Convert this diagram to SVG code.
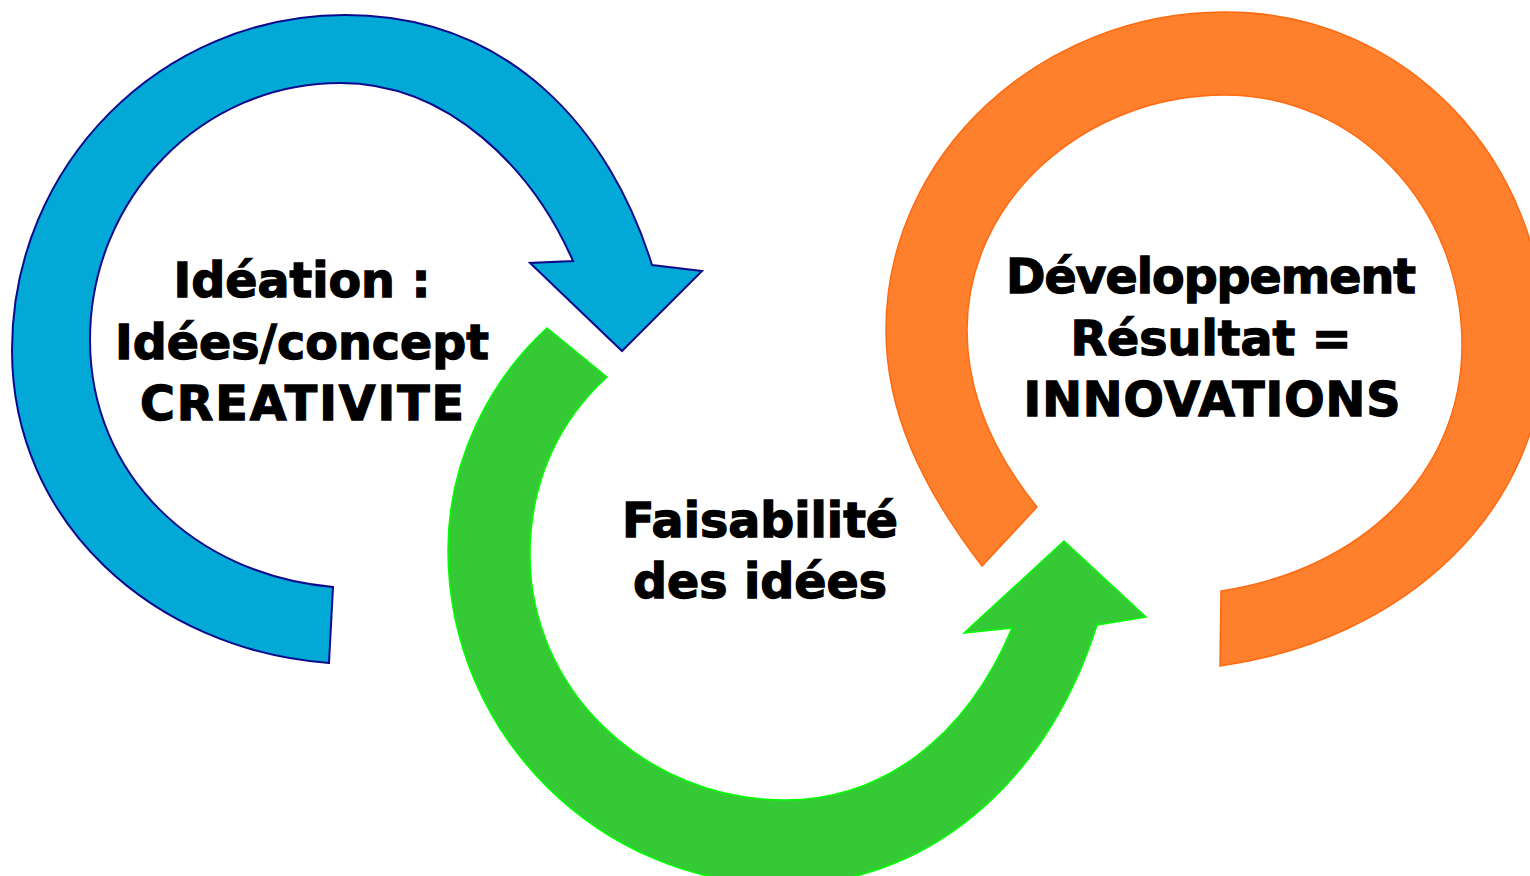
<svg xmlns="http://www.w3.org/2000/svg" width="1530" height="876" viewBox="0 0 1530 876">
<style>
.lbl{font-family:"DejaVu Sans","Liberation Sans",sans-serif;font-weight:bold;font-size:47.5px;fill:#000;stroke:#000;stroke-width:1.3;text-anchor:middle}
.blue{fill:#02A9D6;stroke:#0A0A8C;stroke-width:2;stroke-linejoin:miter}
.green{fill:#36C936;stroke:#00FF00;stroke-width:1.5}
.orange{fill:#FE7F2C;stroke:#FF6A10;stroke-width:1.5}
</style>
<rect width="1530" height="876" fill="#fff"/>
<g id="connectors">
<path id="arrow-blue" class="blue" d="M329,663 C154,650 12,523 12,350 C12,165 161,15 345,15 C510,15 610,130 652,265 L702,271 L622,351 L530,263 L573,261 C533,170 450,83 340,83 C202,83 90,198 90,340 C90,475 195,575 333,587 Z"/>
<path id="arrow-green" class="green" d="M547,328 C490,380 448,460 448,550 C448,735 600,885 785,885 C920,885 1045,790 1097,625 L1146,617 L1064,541 L964,633 L1012,628 C965,740 880,800 785,800 C645,800 530,690 530,555 C530,480 560,420 607,377 Z"/>
<path id="arrow-orange" class="orange" d="M982,566 C920,485 886,410 886,330 C886,155 1040,12 1225,12 C1410,12 1545,165 1545,340 C1545,510 1405,640 1220,666 L1221,591 C1360,570 1462,475 1462,345 C1462,205 1355,95 1225,95 C1085,95 967,200 967,330 C967,395 995,455 1037,507 Z"/>
</g>
<g id="node-ideation">
<text class="lbl" x="302" y="297">Idéation :</text>
<text class="lbl" x="302" y="359" textLength="374" lengthAdjust="spacing">Idées/concept</text>
<text class="lbl" x="302" y="420" textLength="324" lengthAdjust="spacing">CREATIVITE</text>
</g>
<g id="node-faisabilite">
<text class="lbl" x="760" y="537">Faisabilité</text>
<text class="lbl" x="760" y="598">des idées</text>
</g>
<g id="node-developpement">
<text class="lbl" x="1211" y="293" textLength="410" lengthAdjust="spacing">Développement</text>
<text class="lbl" x="1211" y="355">Résultat =</text>
<text class="lbl" x="1212" y="416" textLength="377" lengthAdjust="spacing">INNOVATIONS</text>
</g>
</svg>
